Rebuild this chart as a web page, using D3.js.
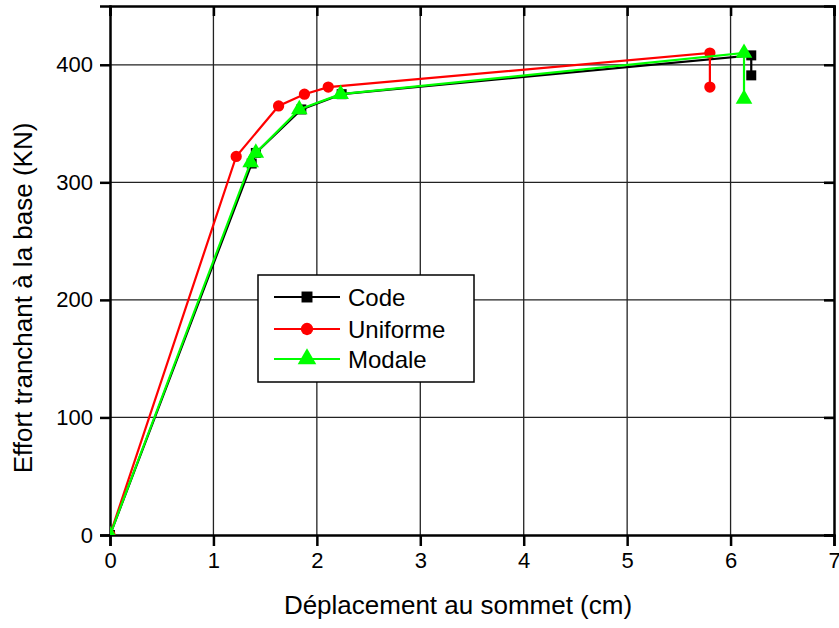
<!doctype html>
<html>
<head>
<meta charset="utf-8">
<script src="https://cdnjs.cloudflare.com/ajax/libs/d3/7.8.5/d3.min.js"></script>
<style>
  body { margin: 0; background: #fff; }
  text { font-family: "Liberation Sans", Arial, sans-serif; fill: #000; }
</style>
</head>
<body>
<svg id="chart" width="839" height="628"></svg>
<script>
// values
var codeX = [0, 1.37, 1.41, 1.85, 2.24, 6.20, 6.20];
var codeY = [0, 316, 325, 362, 375, 408, 391];
var unifX = [0, 1.22, 1.63, 1.88, 2.11, 5.80, 5.80];
var unifY = [0, 322, 365, 375, 381, 410, 381];
var modalX = [0, 1.36, 1.41, 1.83, 2.23, 6.13, 6.13];
var modalY = [0, 317, 325, 362, 375, 410, 371];
var xTicks = [0, 1, 2, 3, 4, 5, 6, 7];
var yTicks = [0, 100, 200, 300, 400];
var seriesNames = ["Code", "Uniforme", "Modale"];
var seriesColors = ["#000000", "#ff0000", "#00ff00"];
var seriesSymbols = [d3.symbolSquare, d3.symbolCircle, d3.symbolTriangle];

var svg = d3.select("#chart");
var pLeft = 110, pRight = 834, pTop = 6, pBottom = 535;

var x = d3.scaleLinear().domain([0, 7]).range([pLeft, pRight]);
var y = d3.scaleLinear().domain([0, 450]).range([pBottom, pTop]);

// grid
svg.append("g").selectAll("line").data(xTicks.slice(1, -1)).enter().append("line")
    .attr("x1", function(d) { return x(d); }).attr("x2", function(d) { return x(d); })
    .attr("y1", pTop).attr("y2", pBottom)
    .attr("stroke", "#222").attr("stroke-width", 1.3);
svg.append("g").selectAll("line").data(yTicks.slice(1)).enter().append("line")
    .attr("y1", function(d) { return y(d); }).attr("y2", function(d) { return y(d); })
    .attr("x1", pLeft).attr("x2", pRight)
    .attr("stroke", "#222").attr("stroke-width", 1.3);

// axes
svg.append("g").attr("transform", "translate(0," + pBottom + ")")
    .call(d3.axisBottom(x).tickValues(xTicks).tickSize(11).tickPadding(6).tickFormat(d3.format("d")));
svg.append("g").attr("transform", "translate(" + pLeft + ",0)")
    .call(d3.axisLeft(y).tickValues(yTicks).tickSize(10).tickPadding(7).tickFormat(d3.format("d")));
svg.append("g").attr("transform", "translate(0," + pTop + ")")
    .call(d3.axisBottom(x).tickValues(xTicks).tickSize(10).tickFormat(""));
svg.append("g").attr("transform", "translate(" + pRight + ",0)")
    .call(d3.axisLeft(y).tickValues(yTicks).tickSize(10).tickFormat(""));

svg.selectAll(".domain").attr("stroke", "#000").attr("stroke-width", 2.5);
svg.selectAll(".tick line").attr("stroke", "#000").attr("stroke-width", 2.5);
svg.selectAll(".tick text")
    .attr("font-size", null).attr("font-family", null)
    .style("font-size", "22px")
    .style("font-family", "Liberation Sans, Arial, sans-serif")
    .attr("fill", "#000");

// series
svg.append("clipPath").attr("id", "plotclip").append("rect")
    .attr("x", pLeft).attr("y", pTop).attr("width", pRight - pLeft).attr("height", pBottom - pTop);

var allX = [codeX, unifX, modalX];
var allY = [codeY, unifY, modalY];
var line = d3.line().x(function(d) { return x(d[0]); }).y(function(d) { return y(d[1]); });

var plot = svg.append("g").attr("clip-path", "url(#plotclip)");
seriesNames.forEach(function(name, i) {
    var pts = d3.zip(allX[i], allY[i]);
    plot.append("path").datum(pts)
        .attr("d", line)
        .attr("fill", "none")
        .attr("stroke", seriesColors[i])
        .attr("stroke-width", 2.2);
    plot.append("g").selectAll("path").data(pts).enter().append("path")
        .attr("transform", function(d) { return "translate(" + x(d[0]) + "," + y(d[1]) + ")"; })
        .attr("d", d3.symbol().type(seriesSymbols[i]).size(i == 2 ? 120 : 100))
        .attr("fill", seriesColors[i]);
});

// axis titles
svg.append("text")
    .attr("x", 458).attr("y", 614)
    .attr("text-anchor", "middle")
    .style("font-size", "26px")
    .text("Déplacement au sommet (cm)");
svg.append("text")
    .attr("transform", "translate(32,298) rotate(-90)")
    .attr("text-anchor", "middle")
    .style("font-size", "26px")
    .text("Effort tranchant à la base (KN)");

// legend
var legend = svg.append("g").attr("transform", "translate(258,275)");
legend.append("rect").attr("width", 216).attr("height", 107)
    .attr("fill", "#fff").attr("stroke", "#000").attr("stroke-width", 1.5);
var rowY = [22, 54, 84];
seriesNames.forEach(function(name, i) {
    var g = legend.append("g").attr("transform", "translate(0," + rowY[i] + ")");
    g.append("line").attr("x1", 16).attr("x2", 82)
        .attr("stroke", seriesColors[i]).attr("stroke-width", 2.2);
    g.append("path").attr("transform", "translate(49,0)")
        .attr("d", d3.symbol().type(seriesSymbols[i]).size(i == 2 ? 150 : 120))
        .attr("fill", seriesColors[i]);
    g.append("text").attr("x", 90).attr("y", 9)
        .style("font-size", "24px")
        .text(name);
});
</script>
</body>
</html>
